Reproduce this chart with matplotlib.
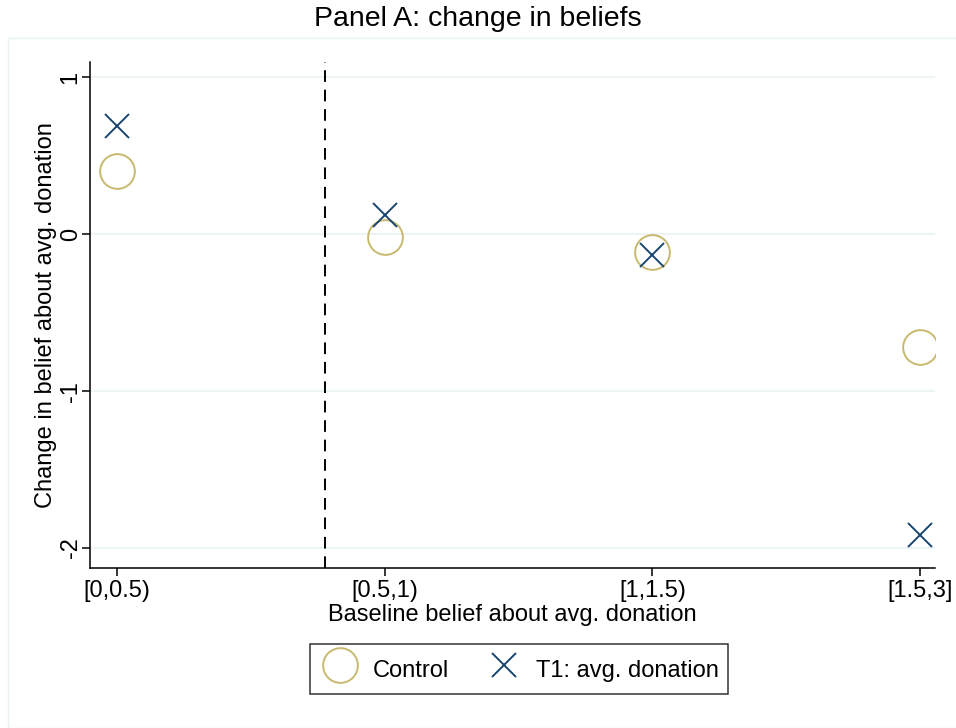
import matplotlib
matplotlib.use('Agg')
import matplotlib.pyplot as plt
from matplotlib.patches import Rectangle

plt.rcParams['font.family'] = ['Liberation Sans', 'DejaVu Sans']

bins = ['[0,0.5)', '[0.5,1)', '[1,1.5)', '[1.5,3]']
x_pos = [0, 1, 2, 3]
control = [0.40, -0.02, -0.115, -0.72]
t1 = [0.69, 0.12, -0.135, -1.915]
y_ticks = [-2, -1, 0, 1]
cutoff = 0.777

fig = plt.figure(figsize=(9.56, 7.28), dpi=100)
fig.patches.append(Rectangle((8 / 956, 0), 1, 1 - 38 / 728, transform=fig.transFigure,
                             fill=False, edgecolor='#eaf2f3', linewidth=1))
ax = fig.add_axes([90 / 956, 1 - 568 / 728, (935 - 90) / 956, (568 - 62) / 728])

ax.set_xlim(-0.101, 3.056)
ax.set_ylim(-2.127, 1.096)

for yt in y_ticks:
    ax.axhline(yt, color='#eaf2f3', linewidth=1.2, zorder=0)
ax.axvline(cutoff, color='black', linestyle=(0, (6, 4)), linewidth=1.4, zorder=1)

ax.plot(x_pos, control, linestyle='none', marker='o', markersize=25, markerfacecolor='none',
        markeredgecolor='#c8b96f', markeredgewidth=1.4, label='Control', zorder=3)
ax.plot(x_pos, t1, linestyle='none', marker='x', markersize=17, markeredgecolor='#1a476f',
        markeredgewidth=1.4, label='T1: avg. donation', zorder=4)

for s in ['top', 'right']:
    ax.spines[s].set_visible(False)
ax.spines['left'].set_linewidth(1.1)
ax.spines['bottom'].set_linewidth(1.1)

ax.set_xticks(x_pos)
ax.set_xticklabels(bins, fontsize=17)
ax.set_yticks(y_ticks)
ax.set_yticklabels(['-2', '-1', '0', '1'], fontsize=17, rotation=90, va='center')
ax.tick_params(axis='x', direction='out', length=6, width=1.1, pad=3)
ax.tick_params(axis='y', direction='out', length=6, width=1.1, pad=0)

ax.set_xlabel('Baseline belief about avg. donation', fontsize=17, labelpad=1)
ax.set_ylabel('Change in belief about avg. donation', fontsize=17, labelpad=2)

fig.suptitle('Panel A: change in beliefs', fontsize=20.5, y=1 - 6 / 728, va='top')

leg = fig.legend(loc='center', bbox_to_anchor=(519 / 956, 1 - 669 / 728), ncol=2, fontsize=17,
                 frameon=True, fancybox=False, edgecolor='black', handletextpad=0.45,
                 columnspacing=1.45, borderpad=0.4, handleheight=1.7, markerscale=1.0,
                 handlelength=1.8)
leg.get_frame().set_linewidth(1.1)

fig.savefig('out.png', dpi=100)
